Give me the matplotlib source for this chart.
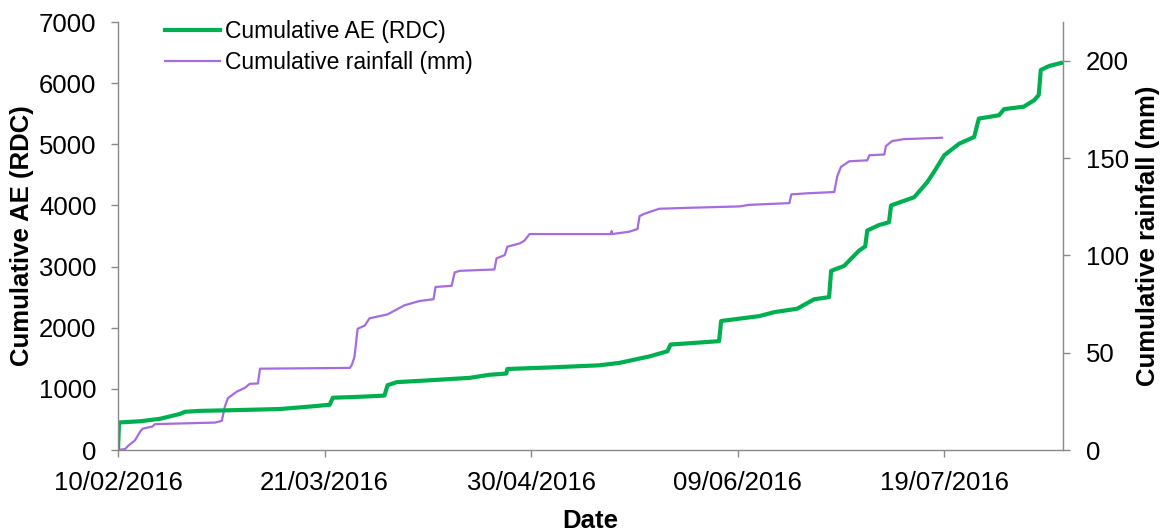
import matplotlib
matplotlib.use("Agg")
import matplotlib.dates as mdates
import numpy as np
from matplotlib import pyplot as plt

plt.rcParams["font.family"] = ["Liberation Sans", "DejaVu Sans"]

START = "2016-02-10"

# days since 10/02/2016, cumulative AE (RDC)
ae_days = [0, 0.2, 4.3, 8.1, 9.1, 12.0, 13.0, 15.9, 21.7, 31.3, 37.1, 41.0, 41.6,
           46.8, 51.6, 52.2, 54.0, 60.3, 68.1, 71.9, 75.2, 75.4, 83.6, 93.2, 97.1,
           102.9, 106.4, 107.0, 116.4, 116.8, 124.2, 127.1, 131.5, 134.8, 137.7,
           138.1, 140.6, 143.5, 144.7, 145.1, 147.4, 149.3, 149.7, 154.2, 156.7,
           158.0, 160.0, 162.9, 165.8, 166.7, 170.6, 171.6, 175.4, 177.4, 178.3,
           178.7, 180.3, 182.6]
ae_vals = [0, 450, 470, 510, 530, 590, 625, 640, 650, 670, 710, 740, 855,
           870, 890, 1060, 1110, 1140, 1180, 1230, 1250, 1325, 1350, 1385, 1425,
           1530, 1615, 1725, 1780, 2110, 2190, 2255, 2310, 2465, 2500,
           2930, 3010, 3260, 3330, 3590, 3680, 3725, 4000, 4135, 4380,
           4545, 4820, 5010, 5120, 5420, 5475, 5575, 5615, 5720, 5805,
           6215, 6280, 6330]

# days since 10/02/2016, cumulative rainfall (mm)
rain_days = [0, 1.4, 1.9, 3.3, 4.3, 4.8, 6.6, 7.2, 18.8, 20.1, 20.7, 21.3, 23.0,
             24.6, 25.5, 27.1, 27.5, 44.9, 45.3, 45.8, 46.4, 47.8, 48.7, 52.2,
             54.0, 55.5, 58.4, 61.1, 61.5, 64.6, 65.2, 66.2, 72.9, 73.3, 74.9,
             75.4, 77.8, 78.7, 79.7, 95.5, 95.6, 95.7, 99.0, 100.6, 101.0, 101.9,
             104.8, 110.6, 120.3, 122.2, 130.0, 130.4, 133.8, 138.7, 139.3, 140.0,
             141.6, 145.1, 145.5, 148.4, 148.7, 149.9, 152.2, 159.6]
rain_vals = [0, 0.5, 2, 5, 9.5, 11, 12, 13.3, 14.1, 15, 22.4, 26.7, 30,
             32, 34, 34.2, 41.8, 42.2, 43.9, 47.9, 62.3, 64, 67.7, 69.7,
             72.3, 74.4, 76.6, 77.5, 83.8, 84.4, 91.3, 92.1, 92.8, 98.5, 100.2,
             104.5, 106.2, 107.6, 111, 111, 112.5, 111, 112.2, 113.6, 120.2, 121.4,
             124, 124.5, 125.2, 126, 126.9, 131.4, 132, 132.6, 140.8, 145.5,
             148.4, 148.9, 151.5, 151.9, 156.2, 158.8, 159.8, 160.5]

tick_days = [0, 40, 80, 120, 160]

GREEN = "#00B050"
PURPLE = "#A66BE0"
GRAY = "#898989"

t0 = mdates.datestr2num(START)

fig = plt.figure(figsize=(11.66, 5.31), dpi=100)
ax = fig.add_axes([118 / 1166, 81 / 531, 945 / 1166, 428 / 531])
ax2 = ax.twinx()

l1, = ax.plot(t0 + np.array(ae_days), ae_vals, color=GREEN, lw=3,
              solid_joinstyle="round", label="Cumulative AE (RDC)")
l2, = ax2.plot(t0 + np.array(rain_days), rain_vals, color=PURPLE, lw=1.6,
               solid_joinstyle="round", label="Cumulative rainfall (mm)")
ax.set_zorder(ax2.get_zorder() + 1)
ax.patch.set_visible(False)

ax.set_xlim(t0, t0 + 183)
ax.set_ylim(0, 7000)
ax2.set_ylim(0, 220)
ax.set_yticks(range(0, 7001, 1000))
ax2.set_yticks(range(0, 201, 50))
ax.set_xticks([t0 + d for d in tick_days])
ax.xaxis.set_major_formatter(mdates.DateFormatter("%d/%m/%Y"))

for a in (ax, ax2):
    for s in a.spines.values():
        s.set_color(GRAY)
        s.set_linewidth(1)
    a.spines["top"].set_visible(False)
    a.tick_params(colors=GRAY, labelcolor="black", labelsize=18.5, length=5, width=1)
ax.spines["right"].set_visible(False)
ax2.spines["left"].set_visible(False)
ax2.spines["bottom"].set_visible(False)
ax.tick_params(axis="y", pad=10.5)
ax.tick_params(axis="x", pad=10)
ax2.tick_params(axis="y", pad=11.5)

ax.set_xlabel("Date", fontsize=18.5, fontweight="bold")
ax.set_ylabel("Cumulative AE (RDC)", fontsize=18.5, fontweight="bold")
ax2.set_ylabel("Cumulative rainfall (mm)", fontsize=18.5, fontweight="bold")
ax.yaxis.set_label_coords(-0.089, 0.5)
ax2.yaxis.set_label_coords(1.077, 0.5)
ax.xaxis.set_label_coords(0.5, -0.137)

ax.legend(handles=[l1, l2], loc="upper left", frameon=False, fontsize=16.5,
          bbox_to_anchor=(165 / 1166, 1 - 20 / 531), bbox_transform=fig.transFigure,
          borderpad=0, borderaxespad=0, handlelength=2.4, handletextpad=0.2,
          labelspacing=0.33)

fig.savefig("out.png", dpi=100)
